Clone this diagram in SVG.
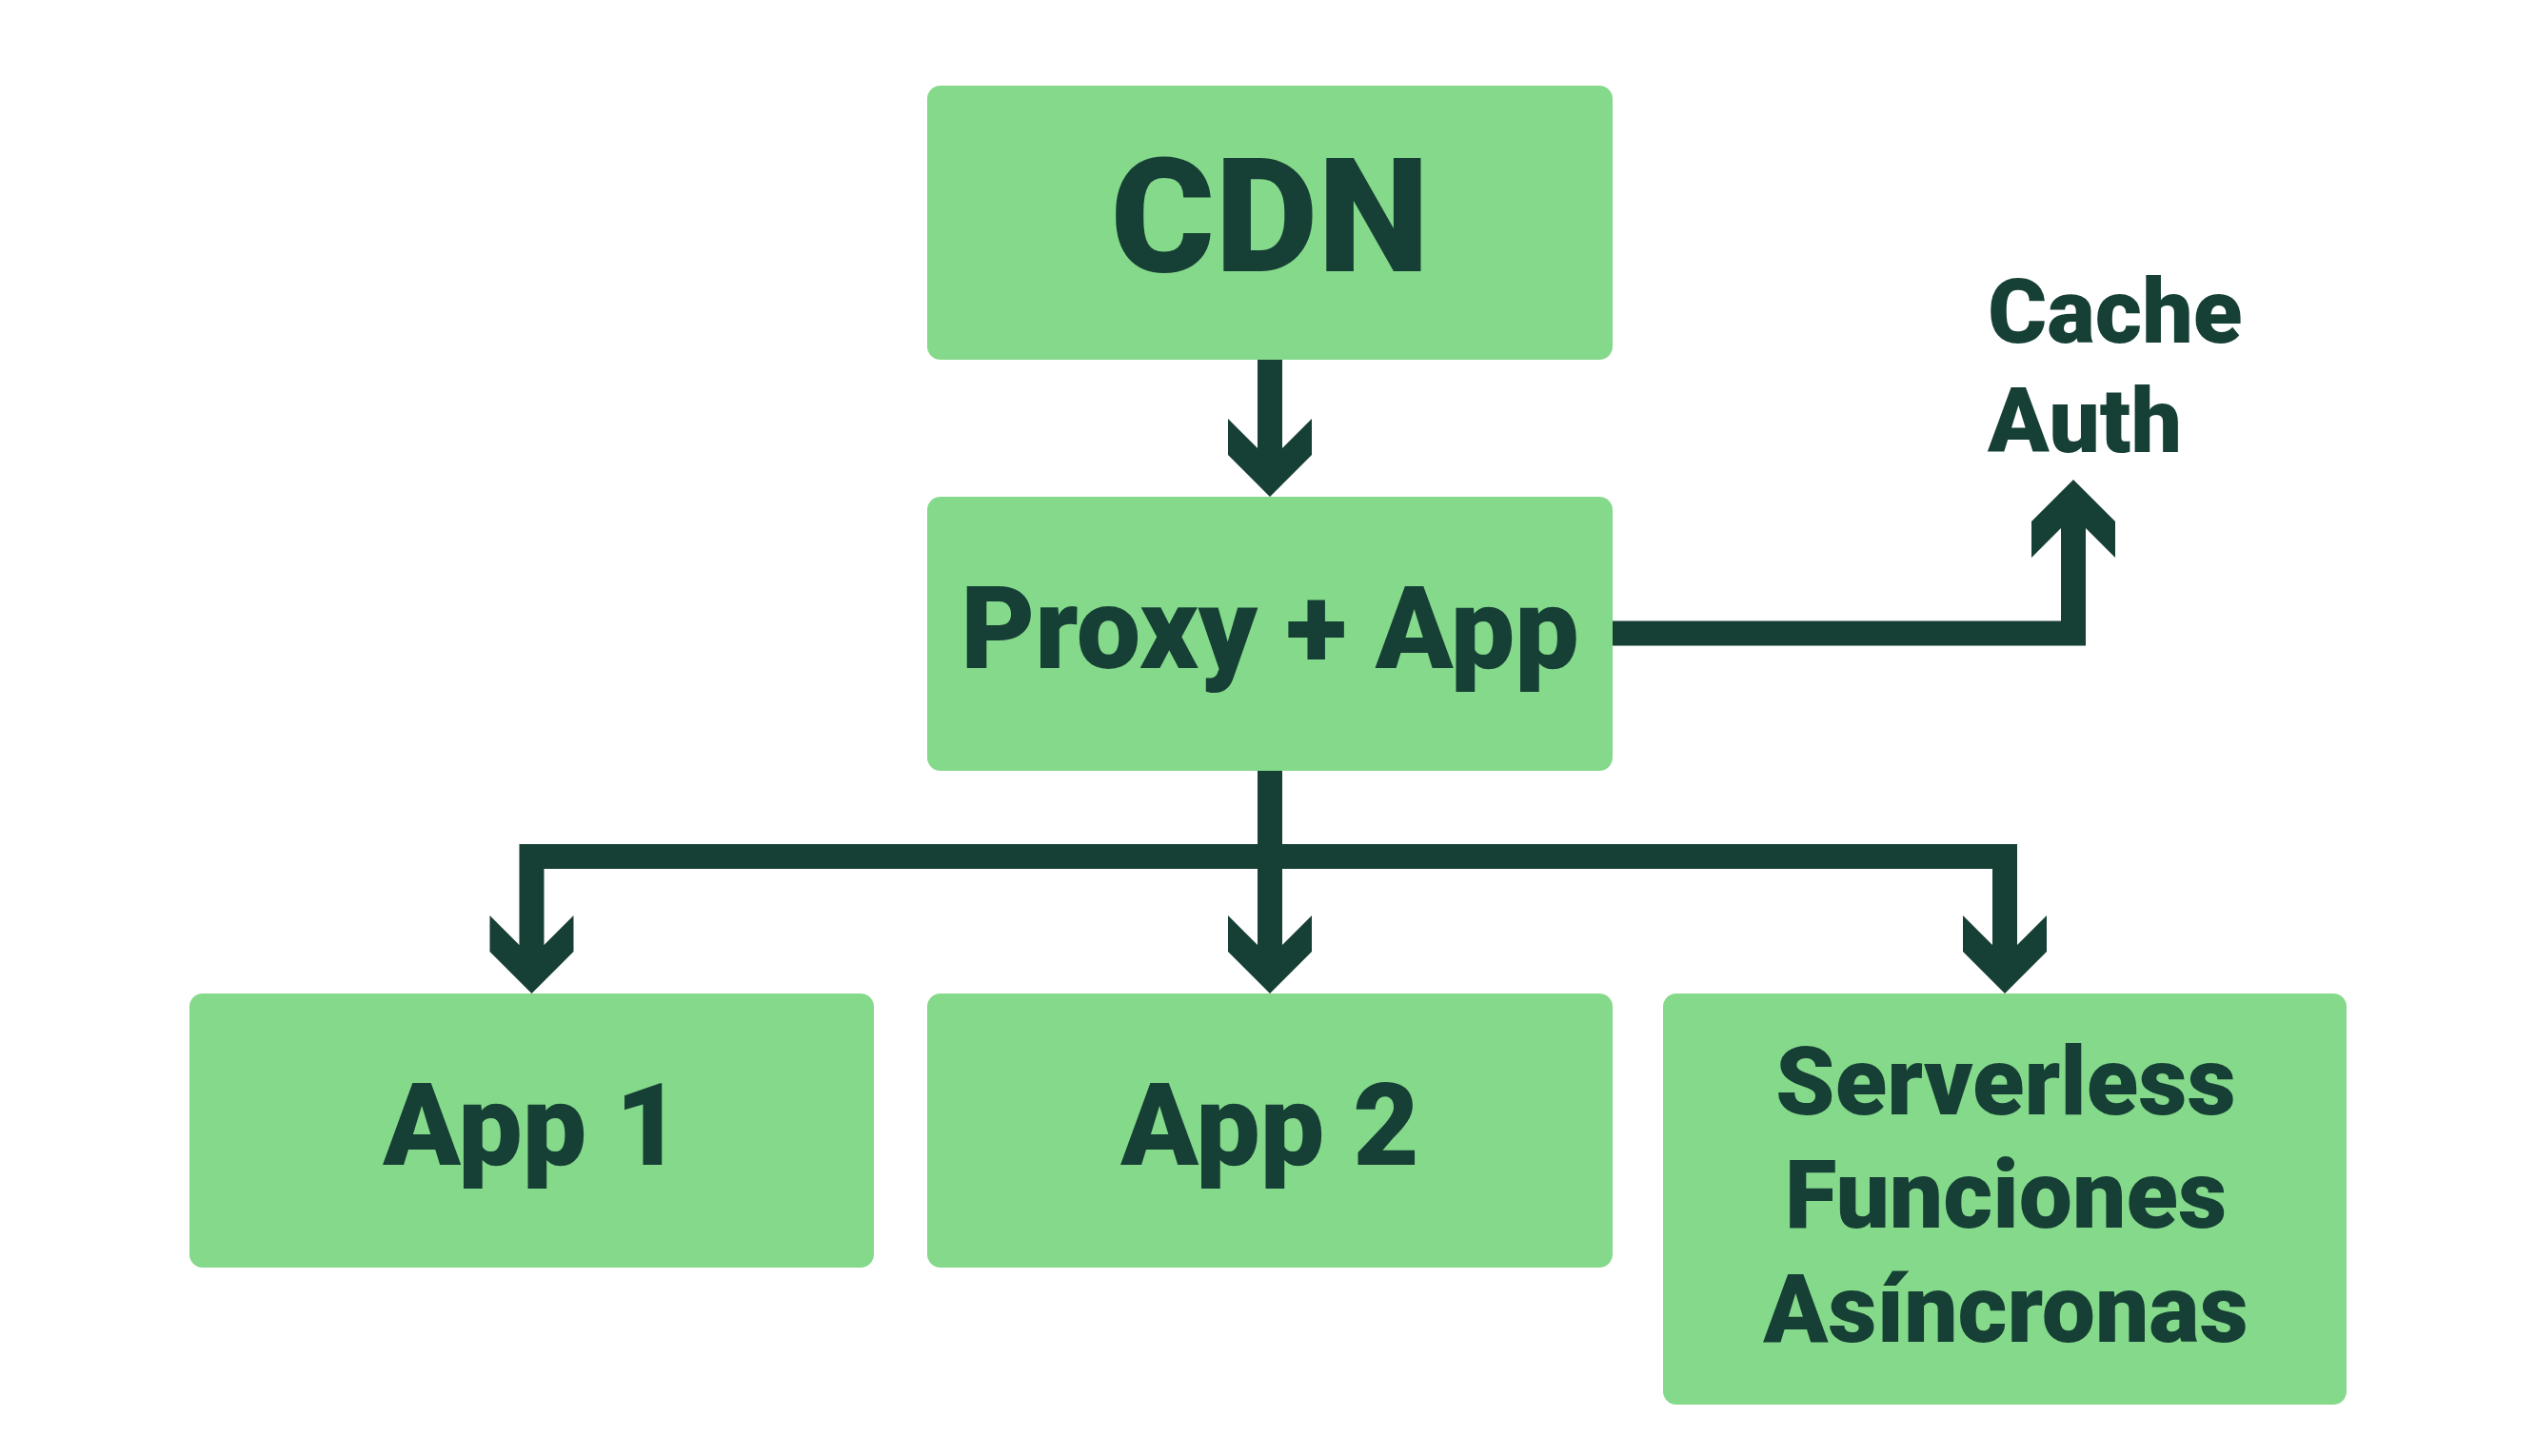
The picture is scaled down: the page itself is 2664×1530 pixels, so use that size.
<svg xmlns="http://www.w3.org/2000/svg" xmlns:xlink="http://www.w3.org/1999/xlink" width="2664" height="1530" viewBox="0 0 2664 1530">
  <style>
    .box { fill: #85d98a; }
    .lbl { font-family: Roboto, "Liberation Sans", sans-serif; font-weight: 900; fill: #163f35; text-anchor: middle; }
    .conn { fill: none; stroke: #163f35; stroke-width: 26; stroke-linejoin: miter; stroke-linecap: butt; }
    .head { fill: #163f35; }
  </style>
  <defs>
    <polygon id="arrowDown" points="-44,-82 -13,-51 13,-51 44,-82 44,-44 0,0 -44,-44"/>
  </defs>
  <rect width="2664" height="1530" fill="#ffffff"/>

  <g id="connectors">
    <path class="conn" d="M1334 378 V480"/>
    <path class="conn" d="M1693 665.5 H2178 V545"/>
    <path class="conn" d="M1334 809 V1000"/>
    <path class="conn" d="M558.5 1000 V900 H2106 V1000"/>
    <use class="head" xlink:href="#arrowDown" transform="translate(1334,522)"/>
    <use class="head" xlink:href="#arrowDown" transform="translate(2178,504) rotate(180)"/>
    <use class="head" xlink:href="#arrowDown" transform="translate(558.5,1044)"/>
    <use class="head" xlink:href="#arrowDown" transform="translate(1334,1044)"/>
    <use class="head" xlink:href="#arrowDown" transform="translate(2106,1044)"/>
  </g>

  <g id="cdn">
    <rect class="box" x="974" y="90" width="720" height="288" rx="14"/>
    <text class="lbl" x="1334" y="285" font-size="167">CDN</text>
  </g>
  <g id="proxy">
    <rect class="box" x="974" y="522" width="720" height="288" rx="14"/>
    <text class="lbl" x="1334" y="702" font-size="120">Proxy + App</text>
  </g>
  <g id="cache-auth">
    <text class="lbl" x="2088" y="360" font-size="95" style="text-anchor:start">Cache</text>
    <text class="lbl" x="2088" y="475" font-size="95" style="text-anchor:start">Auth</text>
  </g>
  <g id="app1">
    <rect class="box" x="199" y="1044" width="719" height="288" rx="14"/>
    <text class="lbl" x="559" y="1224" font-size="120">App 1</text>
  </g>
  <g id="app2">
    <rect class="box" x="974" y="1044" width="720" height="288" rx="14"/>
    <text class="lbl" x="1334" y="1224" font-size="120">App 2</text>
  </g>
  <g id="serverless">
    <rect class="box" x="1747" y="1044" width="718" height="432" rx="14"/>
    <text class="lbl" x="2107" y="1171" font-size="100">Serverless</text>
    <text class="lbl" x="2107" y="1290" font-size="100">Funciones</text>
    <text class="lbl" x="2107" y="1410" font-size="100">Asíncronas</text>
  </g>
</svg>
